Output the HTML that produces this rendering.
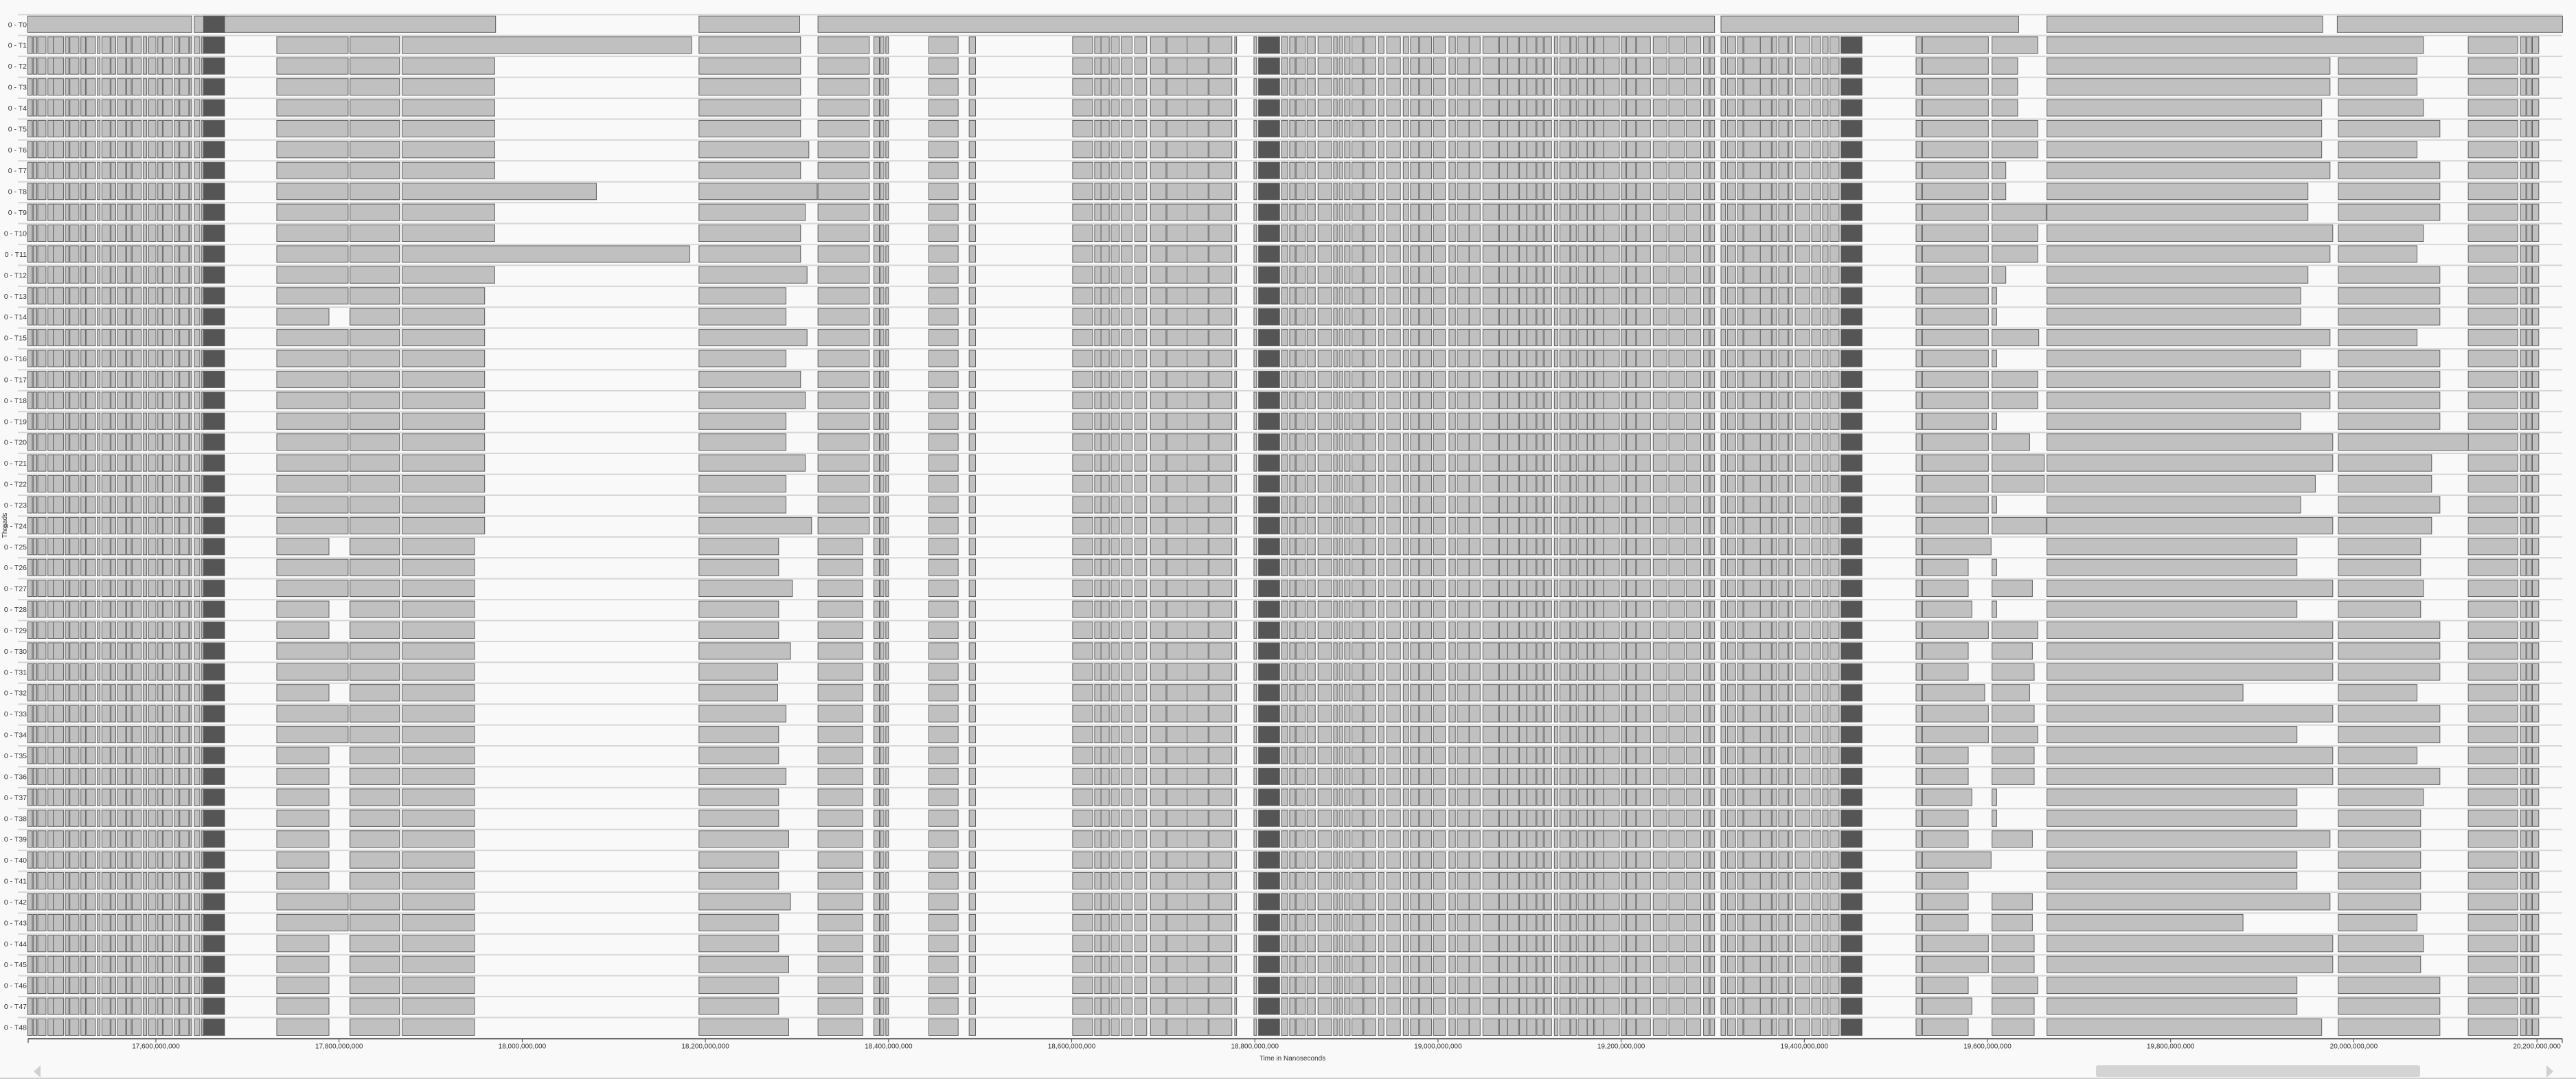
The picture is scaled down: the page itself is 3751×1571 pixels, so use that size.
<!DOCTYPE html>
<html><head><meta charset="utf-8"><style>
html,body{margin:0;padding:0;background:#f9f9f9;}
svg{display:block;font-family:"Liberation Sans",sans-serif;}
</style></head><body>
<svg id="chart" width="3751" height="1571" viewBox="0 0 3751 1571" xmlns="http://www.w3.org/2000/svg">
<rect x="0" y="0" width="3751" height="1571" fill="#f9f9f9"/>
<g id="rows"></g>
<g id="axis"></g>
<text x="1882" y="1544" font-size="10" text-anchor="middle" fill="#333">Time in Nanoseconds</text>
<text x="0" y="0" font-size="10" text-anchor="middle" fill="#333" transform="translate(10,765) rotate(-90)">Threads</text>
<g>
<rect x="26" y="1549" width="3705" height="20" fill="#f9f9f9"/>
<polygon points="59,1551 49,1560 59,1569" fill="#d0d0d0"/>
<rect x="3052" y="1551" width="472" height="17" rx="3" fill="#d4d4d4"/>
<polygon points="3708,1551 3718,1560 3708,1569" fill="#d0d0d0"/>
</g>
<line x1="0" y1="1570" x2="3751" y2="1570" stroke="#d0d0d0" stroke-width="2"/>
</svg>
<script>
// time unit: millions of nanoseconds
const tickValues = [17600,17800,18000,18200,18400,18600,18800,19000,19200,19400,19600,19800,20000,20200];
const threadNames = ["0 - T0","0 - T1","0 - T2","0 - T3","0 - T4","0 - T5","0 - T6","0 - T7","0 - T8","0 - T9","0 - T10","0 - T11","0 - T12","0 - T13","0 - T14","0 - T15","0 - T16","0 - T17","0 - T18","0 - T19","0 - T20","0 - T21","0 - T22","0 - T23","0 - T24","0 - T25","0 - T26","0 - T27","0 - T28","0 - T29","0 - T30","0 - T31","0 - T32","0 - T33","0 - T34","0 - T35","0 - T36","0 - T37","0 - T38","0 - T39","0 - T40","0 - T41","0 - T42","0 - T43","0 - T44","0 - T45","0 - T46","0 - T47","0 - T48"];
const t0Segments = [[17460,17639],[17642,17971],[18193,18303],[18323,19302],[19309,19634],[19665,19966],[19982,20228]];
const burstA = [[17460,17465],[17466,17470],[17471,17480],[17482,17488],[17488,17499],[17501,17505],[17506,17516],[17518,17523],[17524,17534],[17536,17539],[17541,17550],[17551,17556],[17558,17567],[17568,17573],[17574,17584],[17586,17590],[17592,17600],[17602,17607],[17608,17618],[17620,17625],[17626,17636],[17637,17639],[17642,17648],[17650,17652]];
const burstD = [[18601,18623],[18625,18632],[18632,18641],[18643,18652],[18654,18666],[18669,18682],[18686,18703],[18704,18726],[18726,18749],[18750,18775],[18778,18780],[18799,18802]];
const burstE = [[18829,18836],[18838,18844],[18845,18855],[18857,18866],[18869,18884],[18886,18890],[18892,18896],[18898,18904],[18906,18918],[18919,18932],[18935,18941],[18944,18959],[18962,18968],[18970,18979],[18980,18993],[18995,19008],[19012,19019],[19021,19034],[19034,19046],[19049,19066],[19067,19076],[19076,19088],[19089,19097],[19097,19107],[19108,19115],[19116,19124],[19127,19131],[19133,19144],[19145,19151],[19153,19163],[19163,19170],[19171,19181],[19181,19198],[19200,19205],[19206,19216],[19217,19232],[19235,19250],[19252,19269],[19271,19287],[19290,19296],[19297,19302],[19309,19314],[19316,19325],[19327,19333],[19334,19352],[19352,19364],[19365,19370],[19372,19382],[19383,19387],[19390,19406],[19408,19418],[19420,19426],[19428,19438]];
const fixedBars = [[17812,17866],[18384,18390],[18391,18395],[18397,18400],[18444,18476],[18488,18495],[19522,19528],[20125,20179],[20182,20188],[20189,20194],[20195,20202]];
const darkBursts = [[17652,17675],[18804,18827],[19440,19463]];
const b1End = [null,17810,17810,17810,17810,17810,17810,17810,17810,17810,17810,17810,17810,17810,17789,17810,17810,17810,17810,17810,17810,17810,17810,17810,17810,17789,17810,17810,17789,17789,17810,17810,17789,17810,17810,17789,17789,17789,17789,17789,17789,17789,17810,17810,17789,17789,17789,17789,17789];
const b3End = [null,18185,17970,17970,17970,17970,17970,17970,18081,17970,17970,18183,17970,17959,17959,17959,17959,17959,17959,17959,17959,17959,17959,17959,17959,17948,17948,17948,17948,17948,17948,17948,17948,17948,17948,17948,17948,17948,17948,17948,17948,17948,17948,17948,17948,17948,17948,17948,17948];
const cEnd = [null,18304,18304,18304,18304,18304,18313,18304,18322,18309,18304,18304,18311,18288,18288,18311,18288,18304,18309,18288,18288,18309,18288,18288,18316,18280,18280,18295,18280,18280,18293,18279,18279,18288,18280,18280,18288,18280,18280,18291,18280,18280,18293,18280,18280,18291,18280,18280,18291];
const dEnd = [null,18379,18379,18379,18379,18379,18379,18379,18379,18379,18379,18379,18379,18379,18379,18379,18379,18379,18379,18379,18379,18379,18379,18379,18379,18372,18372,18372,18372,18372,18372,18372,18372,18372,18372,18372,18372,18372,18372,18372,18372,18372,18372,18372,18372,18372,18372,18372,18372];
const gEnd = [null,19601,19601,19601,19601,19601,19601,19601,19601,19601,19601,19601,19601,19601,19601,19601,19601,19601,19601,19601,19601,19601,19601,19601,19601,19604,19579,19579,19583,19601,19579,19579,19597,19601,19601,19579,19579,19583,19579,19579,19604,19579,19579,19579,19601,19601,19579,19583,19579];
const hEnd = [null,19655,19633,19633,19633,19655,19655,19620,19620,19664,19655,19655,19620,19610,19610,19656,19610,19655,19655,19610,19646,19662,19662,19610,19664,0,19610,19649,19610,19655,19649,19651,19646,19651,19655,19651,19651,19610,19610,19649,0,0,19649,19649,19651,19651,19655,19651,19651];
const iEnd = [null,20076,19974,19974,19965,19965,19965,19974,19950,19950,19977,19974,19950,19942,19942,19974,19942,19974,19974,19942,19977,19977,19958,19942,19977,19938,19938,19977,19938,19977,19977,19977,19879,19977,19938,19977,19977,19938,19938,19974,19938,19938,19974,19879,19977,19977,19938,19938,19965];
const jEnd = [null,0,20069,20069,20076,20094,20069,20094,20094,20094,20076,20069,20094,20094,20094,20069,20094,20094,20094,20094,20125,20085,20085,20094,20085,20073,20073,20076,20073,20094,20094,20094,20069,20094,20094,20069,20094,20076,20073,20073,20073,20073,20073,20069,20076,20073,20094,20094,20094];

const NS = "http://www.w3.org/2000/svg";
const X0 = 41, T0 = 17460.5, PX = 1.3335;
function xScale(t){ return X0 + (t - T0) * PX; }
const ROW_TOP = 23.3, ROW_STEP = 30.42, BAR_H = 24;
function yScale(i){ return ROW_TOP + i * ROW_STEP; }

const rowsG = document.getElementById('rows');
function bar(g, s, e, y, dark){
  if (!e || e <= s) return;
  const r = document.createElementNS(NS, 'rect');
  r.setAttribute('x', xScale(s).toFixed(1));
  r.setAttribute('y', y.toFixed(1));
  r.setAttribute('width', Math.max(1, xScale(e) - xScale(s)).toFixed(1));
  r.setAttribute('height', BAR_H);
  r.setAttribute('fill', dark ? '#555555' : '#c0c0c0');
  r.setAttribute('stroke', '#5e5e5e');
  r.setAttribute('stroke-width', '1');
  
  
  g.appendChild(r);
}
threadNames.forEach((name, i) => {
  const y = yScale(i);
  const g = document.createElementNS(NS, 'g');
  
  
  const sep = document.createElementNS(NS, 'rect');
  sep.setAttribute('x', 26); sep.setAttribute('y', (y - 3).toFixed(1));
  sep.setAttribute('width', 3705); sep.setAttribute('height', 2);
  sep.setAttribute('fill', '#d6d6d6');
  
  
  g.appendChild(sep);
  const lab = document.createElementNS(NS, 'text');
  lab.setAttribute('x', 39); lab.setAttribute('y', (y + BAR_H/2 + 4).toFixed(1));
  lab.setAttribute('font-size', '10.5'); lab.setAttribute('text-anchor', 'end');
  lab.setAttribute('fill', '#333');
  
  
  lab.textContent = name;
  g.appendChild(lab);
  if (i === 0) {
    t0Segments.forEach(s => bar(g, s[0], s[1], y, false));
    bar(g, darkBursts[0][0], darkBursts[0][1], y, true);
  } else {
    burstA.forEach(s => bar(g, s[0], s[1], y, false));
    bar(g, 17732, b1End[i], y, false);
    bar(g, 17812, 17866, y, false);
    bar(g, 17869, b3End[i], y, false);
    bar(g, 18193, cEnd[i], y, false);
    bar(g, 18323, dEnd[i], y, false);
    fixedBars.forEach(s => bar(g, s[0], s[1], y, false));
    burstD.forEach(s => bar(g, s[0], s[1], y, false));
    burstE.forEach(s => bar(g, s[0], s[1], y, false));
    bar(g, 19529, gEnd[i], y, false);
    bar(g, 19605, hEnd[i], y, false);
    bar(g, 19665, iEnd[i], y, false);
    bar(g, 19983, jEnd[i], y, false);
    darkBursts.forEach(s => bar(g, s[0], s[1], y, true));
  }
  rowsG.appendChild(g);
});

const axisG = document.getElementById('axis');
const AY = 1512.5;
const al = document.createElementNS(NS, 'line');
al.setAttribute('x1', 41); al.setAttribute('x2', 3731);
al.setAttribute('y1', AY); al.setAttribute('y2', AY);
al.setAttribute('stroke', '#222'); al.setAttribute('stroke-width', '1.5');


axisG.appendChild(al);
[41, 3731].forEach(x => {
  const l = document.createElementNS(NS, 'line');
  l.setAttribute('x1', x); l.setAttribute('x2', x);
  l.setAttribute('y1', AY); l.setAttribute('y2', AY + 6);
  l.setAttribute('stroke', '#222');
  
  
  axisG.appendChild(l);
});
tickValues.forEach(v => {
  const x = xScale(v);
  const l = document.createElementNS(NS, 'line');
  l.setAttribute('x1', x); l.setAttribute('x2', x);
  l.setAttribute('y1', AY); l.setAttribute('y2', AY + 5);
  l.setAttribute('stroke', '#444');
  
  
  axisG.appendChild(l);
  const t = document.createElementNS(NS, 'text');
  t.setAttribute('x', x); t.setAttribute('y', AY + 14);
  t.setAttribute('font-size', '10'); t.setAttribute('text-anchor', 'middle');
  t.setAttribute('fill', '#333');
  
  
  t.textContent = (v * 1000000).toLocaleString('en-US');
  axisG.appendChild(t);
});
</script>
</body></html>
